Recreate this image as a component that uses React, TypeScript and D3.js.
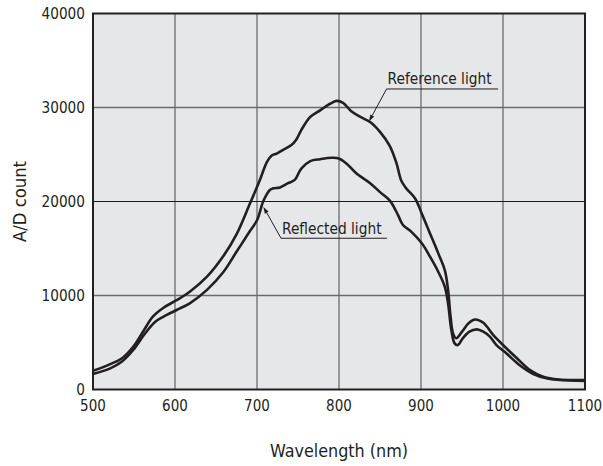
import React from "react";
import * as d3 from "d3";

const W = 603;
const H = 466;

const xTicks = [500, 600, 700, 800, 900, 1000, 1100];
const yTicks = [0, 10000, 20000, 30000, 40000];

const refNm = [500, 510, 521, 535, 549, 561, 573, 586, 602, 618, 639, 659, 675, 691, 704, 712, 718, 724, 732, 742, 748, 754, 765, 777, 789, 797, 805, 815, 826, 838, 850, 862, 870, 876, 882, 893, 901, 911, 921, 929, 933, 936, 939, 943, 950, 958, 966, 976, 988, 1000, 1017, 1033, 1049, 1065, 1082, 1100];
const refVal = [2000, 2300, 2700, 3300, 4550, 6150, 7750, 8700, 9500, 10400, 12000, 14200, 16500, 19700, 22400, 24200, 24900, 25100, 25500, 26000, 26600, 27600, 29000, 29700, 30400, 30700, 30500, 29600, 29000, 28450, 27400, 25900, 24100, 22200, 21400, 20300, 18700, 16600, 14500, 12700, 10600, 7800, 6000, 5450, 6150, 7050, 7450, 7100, 5800, 4730, 3320, 2070, 1360, 1090, 1010, 1000];

const reflNm = [500, 521, 535, 549, 563, 576, 590, 602, 618, 639, 659, 675, 691, 700, 708, 716, 720, 728, 738, 746, 754, 765, 777, 791, 799, 809, 821, 838, 850, 862, 872, 878, 888, 901, 911, 921, 929, 933, 937, 941, 945, 951, 959, 968, 976, 984, 992, 1004, 1020, 1037, 1053, 1069, 1100];
const reflVal = [1650, 2250, 2950, 4200, 5900, 7200, 7930, 8460, 9170, 10600, 12500, 14650, 16800, 18000, 20100, 21250, 21400, 21500, 21950, 22300, 23500, 24300, 24500, 24650, 24600, 24050, 23000, 21950, 21000, 20100, 18560, 17500, 16800, 15550, 14130, 12530, 10940, 9170, 6330, 4910, 4730, 5450, 6150, 6400, 6150, 5620, 4730, 3850, 2610, 1650, 1190, 1010, 900];

const labels = ["Reference light", "Reflected light"];
// annotation anchors in data space: [text nm, text value, tip nm, tip value, underline end nm]
const refAnno = [858, 31970, 836.5, 28500, 994];
const reflAnno = [729.3, 16090, 707.7, 19450, 858.5];

const FONT = "'DejaVu Sans Condensed', 'DejaVu Sans', sans-serif";
const INK = "#231f20";

export default function App() {
  const left = 93, right = 585, top = 13.5, bottom = 389.5;
  const x = d3.scaleLinear().domain([500, 1100]).range([left, right]);
  const y = d3.scaleLinear().domain([0, 40000]).range([bottom, top]);

  const line = d3
    .line<[number, number]>()
    .x((d) => x(d[0]))
    .y((d) => y(d[1]))
    .curve(d3.curveCatmullRom.alpha(0.5));

  const refPts: [number, number][] = refNm.map((n, i) => [n, refVal[i]]);
  const reflPts: [number, number][] = reflNm.map((n, i) => [n, reflVal[i]]);

  const anno = (a: number[], text: string) => {
    const ux = x(a[0]);
    const uy = y(a[1]);
    const tx = x(a[2]);
    const ty = y(a[3]);
    const ex = x(a[4]);
    const ang = Math.atan2(ty - uy, tx - ux);
    const L = 7, Wd = 2.2;
    const bx = tx - L * Math.cos(ang), by = ty - L * Math.sin(ang);
    const px = -Math.sin(ang) * Wd, py = Math.cos(ang) * Wd;
    return (
      <g key={text}>
        <text x={ux + 1} y={uy - 4.5} fontSize={15.3} fontFamily={FONT} fontStretch="condensed" fill={INK}>
          {text}
        </text>
        <line x1={ux} y1={uy} x2={ex} y2={uy} stroke={INK} strokeWidth={1} />
        <line x1={ux} y1={uy} x2={bx} y2={by} stroke={INK} strokeWidth={1} />
        <path d={`M${tx},${ty}L${bx + px},${by + py}L${bx - px},${by - py}Z`} fill={INK} />
      </g>
    );
  };

  return (
    <div style={{ position: "fixed", left: 0, top: 0, width: W, height: H, background: "#fff" }}>
      <svg width={W} height={H} style={{ display: "block" }}>
        <rect x={left} y={top} width={right - left} height={bottom - top} fill="#e6e7e8" />
        {xTicks.slice(1, -1).map((t) => (
          <line key={"gx" + t} x1={x(t)} x2={x(t)} y1={top} y2={bottom} stroke="#6b6b6b" strokeWidth={1.3} />
        ))}
        {yTicks.slice(1, -1).map((t) => (
          <line
            key={"gy" + t}
            x1={left}
            x2={right}
            y1={y(t)}
            y2={y(t)}
            stroke={t === 20000 ? "#1a1a1a" : "#6b6b6b"}
            strokeWidth={t === 20000 ? 1 : 1.3}
          />
        ))}
        <path d={line(refPts) || ""} fill="none" stroke={INK} strokeWidth={2.6} strokeLinejoin="round" />
        <path d={line(reflPts) || ""} fill="none" stroke={INK} strokeWidth={2.6} strokeLinejoin="round" />
        <rect x={left} y={top} width={right - left} height={bottom - top} fill="none" stroke={INK} strokeWidth={2} />
        {anno(refAnno, labels[0])}
        {anno(reflAnno, labels[1])}
        {yTicks.map((t) => (
          <text
            key={"ty" + t}
            x={left - 8}
            y={y(t)}
            dy="0.36em"
            textAnchor="end"
            fontSize={15.2}
            fontFamily={FONT}
            fontStretch="condensed"
            fill={INK}
          >
            {t}
          </text>
        ))}
        {xTicks.map((t) => (
          <text
            key={"tx" + t}
            x={x(t)}
            y={bottom + 16}
            dy="0.36em"
            textAnchor="middle"
            fontSize={15}
            fontFamily={FONT}
            fontStretch="condensed"
            fill={INK}
          >
            {t}
          </text>
        ))}
        <text
          x={(left + right) / 2}
          y={456.5}
          textAnchor="middle"
          fontSize={17.8}
          fontFamily={FONT}
          fontStretch="condensed"
          fill={INK}
        >
          Wavelength (nm)
        </text>
        <text
          transform={`translate(26,${(top + bottom) / 2}) rotate(-90)`}
          textAnchor="middle"
          fontSize={18.3}
          fontFamily={FONT}
          fontStretch="condensed"
          fill={INK}
        >
          A/D count
        </text>
      </svg>
    </div>
  );
}
